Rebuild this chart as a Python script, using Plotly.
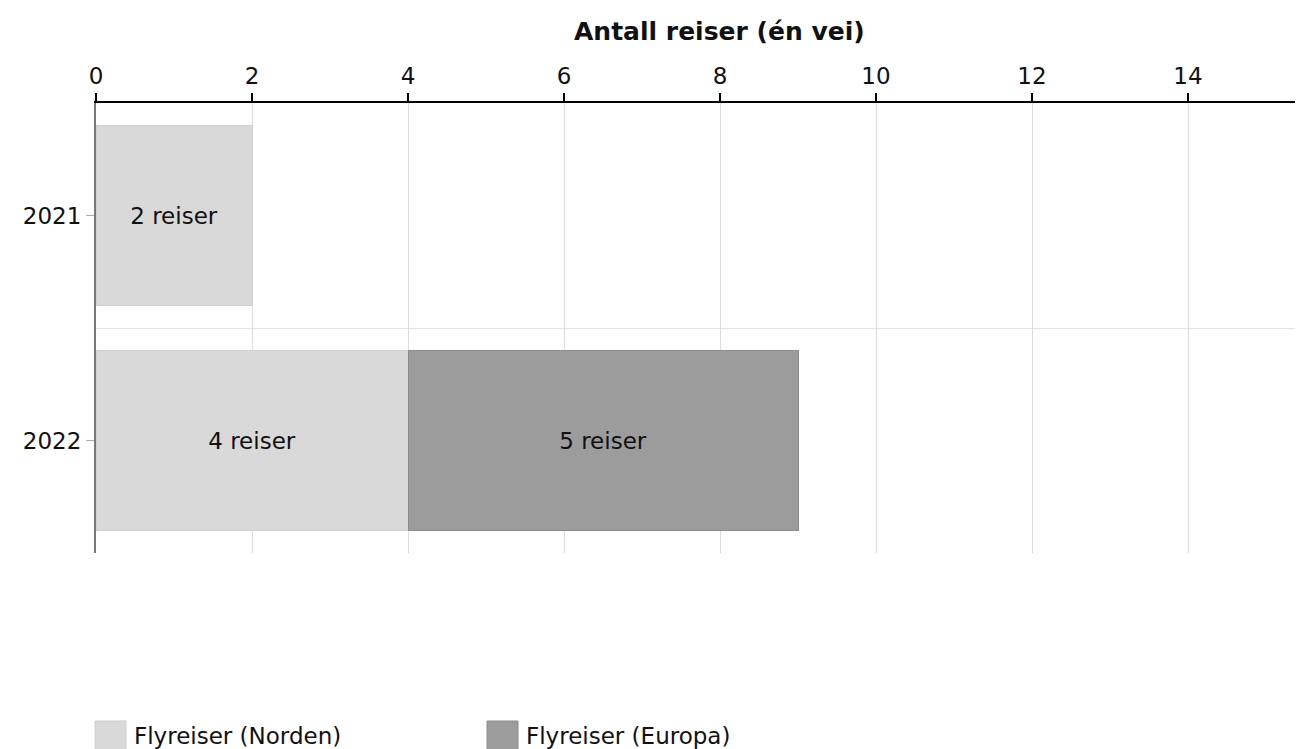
import plotly.graph_objects as go

years = ["2021", "2022"]
series_names = ["Flyreiser (Norden)", "Flyreiser (Europa)"]
norden = [2, 4]
europa = [None, 5]
x_ticks = [0, 2, 4, 6, 8, 10, 12, 14]

colors = ["#d9d9d9", "#9c9c9c"]
borders = ["#d0d0d0", "#8c8c8c"]
FONT = "Verdana, DejaVu Sans, sans-serif"

# the page puts the figure ~7px in from the top-left corner,
# so shrink it to fit the window and shift everything by that offset
OFF = 7
W, H = 1303 - OFF, 749 - OFF
L, R, T, B = 95 - OFF, 0, 102 - OFF, 749 - 552
PW, PH = W - L - R, H - T - B


def px_x(px):
    return (px - OFF - L) / PW


def px_y(py):
    return (H - B - (py - OFF)) / PH


y_pos = list(range(len(years)))

fig = go.Figure()
for name, vals, col, bcol in zip(series_names, [norden, europa], colors, borders):
    fig.add_trace(go.Bar(
        y=y_pos,
        x=vals,
        orientation="h",
        name=name,
        width=0.8,
        marker=dict(color=col, line=dict(color=bcol, width=1)),
        texttemplate="%{x} reiser",
        textposition="inside",
        insidetextanchor="middle",
        constraintext="none",
        textfont=dict(color="#111111", size=23, family=FONT),
        showlegend=False,
    ))

# legend drawn by hand so the swatches match the large squares
legend_x = [94, 486]
for i, (name, col, bcol) in enumerate(zip(series_names, colors, borders)):
    fig.add_shape(type="rect", xref="paper", yref="paper",
                  x0=px_x(legend_x[i]), x1=px_x(legend_x[i] + 31),
                  y0=px_y(749), y1=px_y(720),
                  fillcolor=col, line=dict(color=bcol, width=1))
    fig.add_annotation(text=name, xref="paper", yref="paper",
                       x=px_x(legend_x[i] + 37), y=px_y(735), xanchor="left",
                       yanchor="middle", showarrow=False,
                       font=dict(size=23, family=FONT))

x_span = (1303 - 95) / 78

fig.update_layout(
    width=W, height=H,
    barmode="stack",
    plot_bgcolor="white",
    paper_bgcolor="white",
    margin=dict(l=L, r=R, t=T, b=B),
    font=dict(family=FONT, size=23, color="#111111"),
    xaxis=dict(
        side="top",
        range=[0, x_span],
        tickvals=x_ticks,
        automargin=False,
        showline=True, linecolor="black", linewidth=2,
        ticks="outside", ticklen=8, tickwidth=2, tickcolor="black",
        showgrid=True, gridcolor="#dddddd", gridwidth=1,
        zeroline=False,
        tickfont=dict(size=23),
    ),
    yaxis=dict(
        range=[len(years) - 0.5, -0.5],
        tickvals=y_pos,
        ticktext=years,
        automargin=False,
        showline=True, linecolor="#777777", linewidth=2,
        ticks="outside", ticklen=8, tickwidth=1, tickcolor="#aaaaaa",
        showgrid=False,
        zeroline=False,
        minor=dict(tickvals=[p + 0.5 for p in y_pos], showgrid=True,
                   gridcolor="#e3e3e3", gridwidth=1, ticks=""),
        tickfont=dict(size=23),
    ),
)

fig.add_annotation(text="<b>Antall reiser (én vei)</b>", xref="paper", yref="paper",
                   x=px_x(718), y=px_y(30), showarrow=False,
                   font=dict(size=25, family=FONT), yanchor="middle")

fig.write_html("out.html", default_width=f"{W}px", default_height=f"{H}px")
